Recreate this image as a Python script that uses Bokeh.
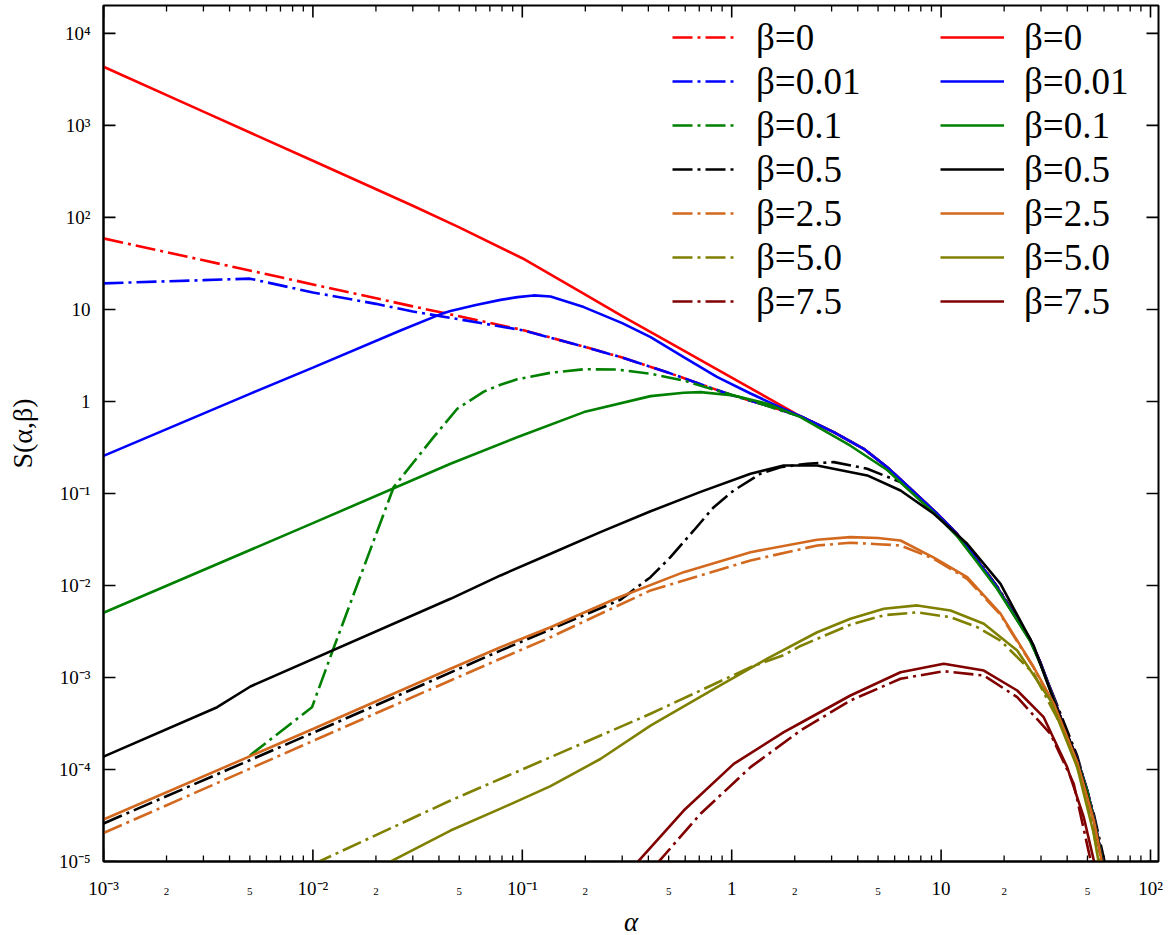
from bokeh.plotting import figure
from bokeh.models import (LogAxis, FixedTicker, Legend, LegendItem)
from bokeh.embed import file_html
from bokeh.resources import INLINE

# ---------------- data ----------------
# shared large-alpha tail where the curves converge
alpha_tail = [2.13, 3.07, 4.27, 5.53, 7.14, 9.58, 11.9, 14.9, 18.5, 22.2, 26.7, 29.8,
              34.5, 38.6, 44.7, 49.9, 53.6, 57.7, 60.5]
s_tail = [0.69, 0.464, 0.306, 0.193, 0.1125, 0.0602, 0.0365, 0.0187, 0.0096, 0.0049,
          0.00253, 0.00145, 6.0e-4, 2.9e-4, 1.3e-4, 5.9e-5, 3.0e-5, 1.32e-5, 7.5e-6]

# beta = 0
a_b0_dash = [0.001, 0.003, 0.01, 0.03, 0.1, 0.2, 0.3, 0.5, 0.7, 1.0, 1.5] + alpha_tail
s_b0_dash = [59.2, 34.2, 18.7, 10.8, 6.0, 3.9, 3.0, 2.05, 1.56, 1.17, 0.89] + s_tail
a_b0_solid = [0.001, 0.003, 0.01, 0.03, 0.05, 0.1, 0.2, 0.3, 0.5, 1.0, 1.5] + alpha_tail
s_b0_solid = [4340, 1410, 413, 134, 78, 36, 14.5, 8.45, 4.42, 1.82, 1.08] + s_tail

# beta = 0.01
a_b001_dash = [0.001, 0.002, 0.003, 0.005, 0.01, 0.02, 0.03, 0.05, 0.1, 0.2, 0.3, 0.5,
               0.7, 1.0, 1.5] + alpha_tail
s_b001_dash = [19.2, 20.2, 20.8, 21.6, 15.3, 11.5, 9.5, 7.8, 5.95, 3.9, 3.0, 2.05,
               1.56, 1.17, 0.89] + s_tail
a_b001_solid = [0.001, 0.005, 0.01, 0.0262, 0.0408, 0.0454, 0.06, 0.0787, 0.095, 0.113,
                0.1364, 0.1966, 0.3, 0.41, 0.59, 0.85, 1.23, 1.77] + alpha_tail
s_b001_solid = [0.256, 1.21, 2.33, 5.9, 8.9, 9.6, 11.2, 12.7, 13.6, 14.2,
                13.8, 10.6, 7.1, 5.0, 3.03, 1.85, 1.22, 0.83] + s_tail

# beta = 0.1
a_b01_dash = [0.005, 0.0099, 0.0126, 0.0243, 0.0377, 0.0489, 0.0655, 0.0787, 0.0945,
              0.1364, 0.197, 0.284, 0.41, 0.59, 0.85, 1.23, 1.77] + alpha_tail
s_b01_dash = [1.42e-4, 4.75e-4, 2.13e-3, 0.117, 0.409, 0.833, 1.28, 1.52, 1.74,
              2.05, 2.24, 2.22, 2.0, 1.69, 1.317, 1.025, 0.78] + s_tail
a_b01_solid = [0.001, 0.01, 0.0454, 0.0945, 0.197, 0.41, 0.59, 0.71, 1.02, 1.48, 2.13,
               3.69, 5.53, 7.14, 9.58, 11.9, 14.9, 18.5, 22.2, 26.7, 29.8, 34.5, 38.6,
               44.7, 49.9, 53.6, 57.7, 60.5]
s_b01_solid = [5.05e-3, 0.0476, 0.21, 0.409, 0.766, 1.142, 1.243, 1.262, 1.161, 0.944,
               0.675, 0.33, 0.18, 0.105, 0.057, 0.0345, 0.0178, 0.0092, 0.0048, 0.00245,
               0.0014, 5.8e-4, 2.8e-4, 1.27e-4, 5.8e-5, 2.95e-5, 1.3e-5, 7.5e-6]

# beta = 0.5
a_b05_dash = [0.001, 0.01, 0.0787, 0.2944, 0.4095, 0.51, 0.659, 0.821, 1.023, 1.372,
              1.71, 2.294, 3.074, 4.436, 6.40, 9.23, 13.32, 18.5, 22.2, 26.7, 34.5,
              44.7, 53.6, 59.8, 61.5]
s_b05_dash = [2.59e-5, 2.5e-4, 1.96e-3, 7.0e-3, 0.0123, 0.0203, 0.0396, 0.071, 0.1078,
              0.1637, 0.193, 0.2104, 0.219, 0.1855, 0.133, 0.064, 0.027, 0.0098, 0.0051,
              0.0026, 6.2e-4, 1.4e-4, 3.3e-5, 1.1e-5, 7.5e-6]
a_b05_solid = [0.001, 0.00349, 0.00503, 0.0454, 0.0787, 0.1364, 0.236, 0.41, 0.71, 1.23,
               1.77, 2.56, 4.44, 6.40, 9.23, 13.32, 19.22, 27.72, 34.5, 44.7, 53.6,
               57.7, 60.5]
s_b05_solid = [1.38e-4, 4.75e-4, 7.98e-4, 7.16e-3, 0.01285, 0.0221, 0.038, 0.064, 0.104,
               0.164, 0.2015, 0.2015, 0.157, 0.1078, 0.0602, 0.0284, 0.0104, 0.0022,
               5.7e-4, 1.28e-4, 2.9e-5, 1.25e-5, 7e-6]

# beta = 2.5
a_b25_dash = [0.001, 0.0454, 0.0787, 0.1364, 0.4095, 1.23, 2.56, 3.69, 5.0, 6.40, 9.23,
              13.32, 19.22, 27.72, 34.5, 44.7, 53.6, 57.7, 60.0]
s_b25_dash = [2.04e-5, 9.27e-4, 1.60e-3, 2.74e-3, 8.83e-3, 0.0187, 0.0272, 0.0291,
              0.0281, 0.0272, 0.0195, 0.0118, 4.8e-3, 1.27e-3, 5.1e-4, 1.18e-4, 2.7e-5,
              1.15e-5, 7e-6]
a_b25_solid = [0.001, 0.01, 0.0454, 0.0787, 0.1364, 0.284, 0.59, 1.23, 2.56, 3.69, 5.0,
               6.40, 9.23, 13.32, 19.22, 27.72, 34.5, 44.7, 53.6, 57.7, 60.0]
s_b25_solid = [2.86e-5, 2.75e-4, 1.245e-3, 2.13e-3, 3.52e-3, 7.3e-3, 0.01396, 0.0230,
               0.0314, 0.0335, 0.0328, 0.0308, 0.0201, 0.0123, 4.93e-3, 1.29e-3, 5.2e-4,
               1.2e-4, 2.8e-5, 1.2e-5, 7e-6]

# beta = 5.0
a_b50_dash = [0.0100, 0.0454, 0.1364, 0.4095, 1.23, 1.774, 2.131, 3.69, 5.33, 7.69,
              11.09, 14.88, 19.22, 27.72, 40.0, 50.0, 56.5, 58.0]
s_b50_dash = [9.3e-6, 4.6e-5, 1.36e-4, 4.03e-4, 1.294e-3, 1.75e-3, 2.2e-3, 3.75e-3,
              4.75e-3, 5.1e-3, 4.52e-3, 3.52e-3, 2.52e-3, 1.10e-3, 2.24e-4, 5e-5,
              1.05e-5, 7e-6]
a_b50_solid = [0.0215, 0.0454, 0.0787, 0.1364, 0.236, 0.4095, 0.852, 1.478, 2.56, 3.69,
               5.33, 7.69, 11.09, 16.0, 23.09, 33.3, 44.67, 53.6, 58.0]
s_b50_solid = [9.0e-6, 2.17e-5, 3.75e-5, 6.6e-5, 1.3e-4, 3.0e-4, 7.85e-4, 1.6e-3,
               3.1e-3, 4.35e-3, 5.58e-3, 6.07e-3, 5.35e-3, 3.84e-3, 1.96e-3, 5.62e-4,
               1.06e-4, 2.0e-5, 7e-6]

# beta = 7.5
a_b75_dash = [0.44, 0.71, 1.23, 2.131, 3.69, 6.40, 10.3, 16.0, 23.09, 33.3, 43.0, 52.0,
              53.5]
s_b75_dash = [9.5e-6, 3.30e-5, 1.06e-4, 2.65e-4, 5.62e-4, 9.68e-4, 1.17e-3, 1.05e-3,
              6.11e-4, 2.44e-4, 7.0e-5, 9.8e-6, 7e-6]
a_b75_solid = [0.35, 0.59, 1.023, 1.774, 2.131, 3.69, 6.40, 10.3, 16.0, 23.09, 30.9,
               40.0, 48.0, 53.6, 55.0]
s_b75_solid = [9.5e-6, 3.58e-5, 1.15e-4, 2.55e-4, 3.2e-4, 6.37e-4, 1.14e-3, 1.41e-3,
               1.19e-3, 7.22e-4, 3.70e-4, 1.06e-4, 3.03e-5, 1.03e-5, 7.5e-6]

beta_labels = ["β=0", "β=0.01", "β=0.1", "β=0.5", "β=2.5", "β=5.0", "β=7.5"]
colors = ["#ff0000", "#0000ff", "#008000", "#000000", "#d2691e", "#808000", "#800000"]
dash_series = [(a_b0_dash, s_b0_dash), (a_b001_dash, s_b001_dash), (a_b01_dash, s_b01_dash),
               (a_b05_dash, s_b05_dash), (a_b25_dash, s_b25_dash), (a_b50_dash, s_b50_dash),
               (a_b75_dash, s_b75_dash)]
solid_series = [(a_b0_solid, s_b0_solid), (a_b001_solid, s_b001_solid),
                (a_b01_solid, s_b01_solid), (a_b05_solid, s_b05_solid),
                (a_b25_solid, s_b25_solid), (a_b50_solid, s_b50_solid),
                (a_b75_solid, s_b75_solid)]

# axes
x_lo, x_hi = 1e-3, 109.2
y_lo, y_hi = 1e-5, 2.01e4
x_decades = [1e-3, 1e-2, 1e-1, 1.0, 10.0, 100.0]
x_decade_labels = ["10⁻³", "10⁻²", "10⁻¹", "1", "10", "10²"]
x_minor = [m * d for d in [1e-3, 1e-2, 1e-1, 1.0, 10.0] for m in range(2, 10)]
x_small_ticks = [2e-3, 5e-3, 2e-2, 5e-2, 0.2, 0.5, 2.0, 5.0, 20.0, 50.0]
x_small_labels = ["2", "5", "2", "5", "2", "5", "2", "5", "2", "5"]
y_decades = [1e-5, 1e-4, 1e-3, 1e-2, 1e-1, 1.0, 10.0, 100.0, 1000.0, 10000.0]
y_decade_labels = ["10⁻⁵", "10⁻⁴", "10⁻³", "10⁻²", "10⁻¹", "1", "10", "10²", "10³", "10⁴"]

# ---------------- figure ----------------
FONT = "Liberation Serif"
p = figure(x_axis_type="log", y_axis_type="log", x_range=(x_lo, x_hi), y_range=(y_lo, y_hi),
           frame_width=1055, frame_height=856, output_backend="svg", toolbar_location=None,
           min_border_left=103, min_border_right=11, min_border_top=5, min_border_bottom=70)
p.grid.visible = False
p.outline_line_color = "black"
p.outline_line_width = 2
p.background_fill_color = "white"
p.border_fill_color = "white"

xa = p.xaxis[0]
xa.ticker = FixedTicker(ticks=x_decades, minor_ticks=[])
xa.major_label_overrides = {float(v): t for v, t in zip(x_decades, x_decade_labels)}
ya = p.yaxis[0]
ya.ticker = FixedTicker(ticks=y_decades, minor_ticks=[])
ya.major_label_overrides = {float(v): t for v, t in zip(y_decades, y_decade_labels)}

for ax in (xa, ya):
    ax.axis_line_width = 2
    ax.major_tick_in = 0
    ax.major_tick_out = 0
    ax.minor_tick_in = 0
    ax.minor_tick_out = 0
    ax.major_label_text_font = FONT
    ax.major_label_text_font_size = "19px"
    ax.major_label_text_color = "black"
    ax.axis_label_text_font = FONT
    ax.axis_label_text_color = "black"
xa.major_label_standoff = 16
ya.major_label_standoff = 13
ya.axis_label = "S(α,β)"
ya.axis_label_text_font_size = "28px"
ya.axis_label_text_font_style = "normal"
ya.axis_label_standoff = 18

# second bottom axis: the small "2" / "5" labels and the axis title
xa2 = LogAxis(ticker=FixedTicker(ticks=x_small_ticks, minor_ticks=[]),
              major_label_overrides={float(v): t for v, t in zip(x_small_ticks, x_small_labels)},
              major_label_text_font=FONT, major_label_text_font_size="11px",
              major_label_text_color="black", major_label_standoff=-14,
              major_tick_in=0, major_tick_out=0, minor_tick_in=0, minor_tick_out=0,
              axis_line_color=None, axis_label="α", axis_label_text_font=FONT,
              axis_label_text_font_size="27px", axis_label_text_font_style="italic",
              axis_label_text_color="black", axis_label_standoff=9)
p.add_layout(xa2, "below")

# inward tick marks on all four sides, placed at the tick values through the scales
TICK_C = "black"
nxd, nxm, nyd = len(x_decades), len(x_minor), len(y_decades)
p.ray(x=x_decades, y=[y_lo] * nxd, length=12, length_units="screen", angle=90,
      angle_units="deg", line_color=TICK_C, line_width=1.6)
p.ray(x=x_minor, y=[y_lo] * nxm, length=6, length_units="screen", angle=90,
      angle_units="deg", line_color=TICK_C, line_width=1.3)
p.ray(x=x_decades, y=[y_hi] * nxd, length=12, length_units="screen", angle=-90,
      angle_units="deg", line_color=TICK_C, line_width=1.6)
p.ray(x=x_minor, y=[y_hi] * nxm, length=6, length_units="screen", angle=-90,
      angle_units="deg", line_color=TICK_C, line_width=1.3)
p.ray(x=[x_lo] * nyd, y=y_decades, length=12, length_units="screen", angle=0,
      angle_units="deg", line_color=TICK_C, line_width=1.6)
p.ray(x=[x_hi] * nyd, y=y_decades, length=12, length_units="screen", angle=180,
      angle_units="deg", line_color=TICK_C, line_width=1.6)

DASH = "20 5 3 5"
LW = 2.6
dash_r = []
for (a, s), c in zip(dash_series, colors):
    dash_r.append(p.line(a, s, line_color=c, line_width=LW, line_dash=DASH))
solid_r = []
for (a, s), c in zip(solid_series, colors):
    solid_r.append(p.line(a, s, line_color=c, line_width=LW))


def make_legend(rs, loc):
    return Legend(items=[LegendItem(label=lab, renderers=[r]) for lab, r in zip(beta_labels, rs)],
                  location=loc, orientation="vertical", border_line_alpha=0,
                  background_fill_alpha=0, padding=0, margin=0, spacing=0,
                  glyph_width=64, glyph_height=44, label_height=44, label_standoff=20,
                  label_text_font=FONT, label_text_font_size="37px",
                  label_text_color="black")


p.add_layout(make_legend(dash_r, (569, 538)))
p.add_layout(make_legend(solid_r, (837, 538)))

open("out.html", "w").write(file_html(p, INLINE))
